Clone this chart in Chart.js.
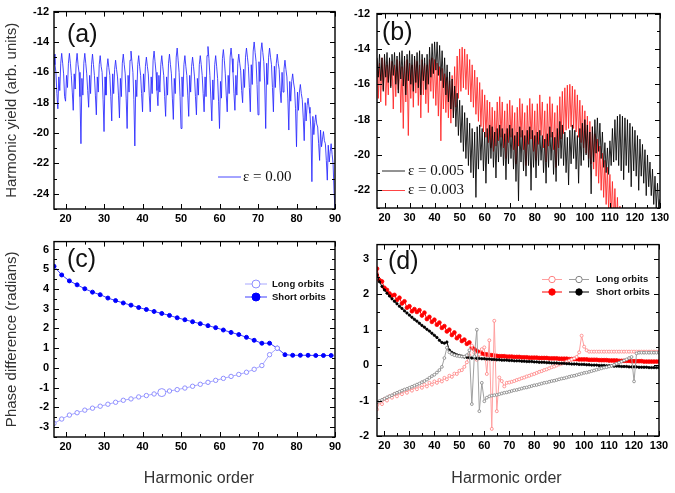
<!DOCTYPE html>
<html>
<head>
<meta charset="utf-8">
<script src="https://cdn.jsdelivr.net/npm/chart.js@4/dist/chart.umd.min.js"></script>
<style>
body { margin: 0; background: #fff; width: 675px; height: 493px; position: relative; overflow: hidden; }
canvas { position: absolute; }
</style>
</head>
<body>
<canvas id="pa" width="345" height="235" style="left:0;top:0"></canvas>
<canvas id="pb" width="338" height="235" style="left:337px;top:0"></canvas>
<canvas id="pc" width="345" height="263" style="left:0;top:230px"></canvas>
<canvas id="pd" width="338" height="263" style="left:337px;top:230px"></canvas>
<script>
// (a) harmonic yield, eps = 0.00, sampled every 0.25 order from H17
var yieldAStart = 17, yieldAStep = 0.25;
var yieldA = [
    -14.8, -15.5, -16.0, -17.4, -18.4, -16.3, -17.2, -15.4,
    -14.75, -15.4, -16.1, -17.6, -17.9, -16.2, -17.0, -15.4,
    -14.75, -15.4, -16.2, -17.3, -18.5, -16.1, -17.1, -15.4,
    -14.75, -15.5, -16.0, -17.6, -20.7, -16.4, -17.5, -15.4,
    -14.75, -15.4, -16.1, -17.2, -18.3, -16.2, -17.4, -15.5,
    -14.8, -15.5, -16.2, -17.5, -18.8, -16.3, -17.3, -15.5,
    -14.9, -15.6, -16.0, -17.8, -19.9, -16.3, -17.5, -15.7,
    -15.1, -15.7, -16.2, -17.6, -19.2, -16.1, -17.4, -15.8,
    -15.2, -15.8, -16.3, -17.5, -19.0, -16.4, -17.6, -15.4,
    -14.8, -15.5, -16.1, -17.7, -19.7, -16.2, -17.3, -15.2,
    -14.6, -15.3, -16.0, -17.8, -20.85, -16.5, -17.6, -15.5,
    -14.9, -15.6, -16.2, -17.4, -18.6, -16.1, -17.3, -15.6,
    -15.0, -15.6, -16.1, -17.5, -18.6, -16.3, -17.4, -15.2,
    -14.6, -15.3, -16.0, -17.2, -18.2, -16.2, -17.3, -15.5,
    -14.9, -15.6, -16.2, -17.6, -18.9, -16.3, -17.5, -15.4,
    -14.8, -15.5, -16.1, -17.7, -19.1, -16.4, -17.4, -15.0,
    -14.4, -15.2, -16.0, -17.6, -19.7, -16.3, -17.6, -15.5,
    -14.9, -15.6, -16.2, -17.5, -18.9, -16.2, -17.3, -15.6,
    -15.0, -15.6, -16.3, -17.6, -18.8, -16.4, -17.5, -15.5,
    -14.9, -15.5, -16.2, -17.4, -18.6, -16.3, -17.6, -14.9,
    -14.3, -15.1, -16.2, -17.7, -19.2, -16.5, -17.8, -15.5,
    -14.9, -15.6, -16.4, -17.9, -19.7, -16.6, -17.7, -15.1,
    -14.5, -15.2, -16.1, -17.5, -18.6, -16.2, -17.4, -15.0,
    -14.4, -15.1, -16.0, -17.4, -18.5, -16.2, -17.5, -15.4,
    -14.8, -15.4, -15.9, -17.2, -18.0, -15.8, -17.0, -15.0,
    -14.4, -15.0, -15.6, -17.0, -18.6, -15.5, -16.8, -14.6,
    -14.0, -14.7, -15.3, -16.8, -18.8, -15.3, -16.6, -14.6,
    -14.05, -14.7, -15.3, -16.9, -19.7, -15.4, -16.8, -15.0,
    -14.4, -15.0, -15.5, -17.0, -18.6, -15.6, -17.0, -15.4,
    -14.8, -15.4, -15.8, -17.2, -18.0, -16.0, -17.3, -15.8,
    -15.2, -15.8, -16.3, -17.7, -19.8, -16.6, -17.9, -16.6,
    -16.1, -16.7, -17.1, -18.4, -20.9, -17.3, -18.5, -17.3,
    -16.8, -17.4, -17.8, -19.0, -20.5, -18.0, -19.2, -18.2,
    -17.7, -18.3, -18.7, -19.8, -23.2, -18.9, -20.1, -19.3,
    -18.8, -19.4, -19.6, -20.7, -21.8, -19.8, -20.9, -20.4,
    -19.9, -20.5, -20.7, -21.8, -23.1, -20.8, -21.9, -21.2,
    -20.7, -21.4, -22.0, -23.8, -25.0
];

// (b) harmonic yield, sampled every 0.5 order from H17 (comb top, comb bottom, ...)
var yieldBStart = 17, yieldBStep = 0.5;
var yieldB005 = [
    -14.5, -15.6, -14.3, -15.8, -14.5, -16.4, -14.3, -15.6, -14.2, -15.9,
    -14.5, -16.2, -14.3, -15.5, -14.2, -16.0, -14.4, -16.5, -14.2, -15.7,
    -14.1, -16.1, -14.4, -16.6, -14.3, -15.8, -14.1, -16.0, -14.3, -16.4,
    -14.4, -15.9, -14.2, -16.2, -14.1, -16.6, -14.3, -15.8, -14.5, -16.3,
    -14.3, -16.0, -13.9, -15.6, -13.7, -15.4, -13.6, -15.2, -13.6, -15.5,
    -13.8, -15.8, -14.1, -16.2, -14.5, -16.6, -14.9, -17.0, -15.3, -17.4,
    -15.7, -17.9, -16.1, -18.4, -16.5, -18.9, -16.9, -19.3, -17.2, -19.8,
    -17.6, -20.2, -17.9, -20.6, -18.2, -21.0, -18.5, -21.3, -18.7, -22.4,
    -18.4, -20.8, -18.3, -20.3, -18.5, -20.9, -18.7, -21.6, -18.5, -20.5,
    -18.3, -20.2, -18.4, -20.7, -18.7, -21.3, -18.5, -20.4, -18.3, -20.1,
    -18.5, -20.6, -18.8, -21.4, -18.5, -20.5, -18.3, -20.2, -18.5, -20.8,
    -18.9, -21.5, -18.7, -22.6, -18.4, -20.4, -18.6, -20.9, -18.9, -21.2,
    -18.6, -20.6, -18.4, -22.0, -18.6, -20.7, -18.9, -21.3, -18.7, -20.6,
    -18.6, -20.3, -18.9, -21.0, -19.1, -21.6, -18.8, -20.7, -18.4, -20.3,
    -18.7, -21.1, -19.0, -21.5, -18.5, -20.6, -18.1, -20.2, -18.3, -20.6,
    -18.7, -21.0, -19.0, -21.7, -18.6, -20.5, -18.3, -20.2, -18.6, -20.8,
    -18.9, -21.6, -18.5, -20.6, -18.2, -20.3, -18.0, -20.0, -18.3, -20.7,
    -18.7, -22.2, -18.4, -20.4, -18.0, -19.9, -17.9, -19.8, -18.2, -20.2,
    -18.7, -20.7, -19.3, -21.0, -19.6, -21.1, -19.2, -20.6, -18.5, -20.4,
    -18.0, -20.3, -17.8, -20.6, -17.7, -20.9, -17.8, -21.4, -17.9, -20.6,
    -18.0, -21.0, -18.2, -21.8, -18.4, -20.9, -18.6, -21.2, -18.9, -22.0,
    -19.1, -21.2, -19.4, -21.6, -19.7, -22.3, -20.0, -21.8, -20.4, -22.3,
    -20.8, -22.8, -21.2, -23.0, -21.6, -23.0, -22.5
];
var yieldB003 = [
    -14.6, -16.8, -14.8, -17.0, -14.5, -16.3, -14.6, -17.2, -14.9, -16.6,
    -14.6, -16.1, -14.7, -17.4, -14.9, -16.7, -14.6, -16.3, -14.7, -17.6,
    -15.0, -18.5, -14.7, -17.0, -14.6, -18.9, -14.8, -16.8, -14.9, -17.3,
    -14.6, -16.5, -14.7, -17.2, -14.9, -17.9, -14.6, -16.6, -14.8, -17.1,
    -14.9, -17.6, -14.6, -16.4, -14.5, -16.8, -14.6, -17.2, -14.8, -17.8,
    -15.0, -19.2, -15.1, -17.4, -15.4, -17.6, -15.6, -17.9, -15.8, -18.2,
    -15.5, -17.9, -15.0, -17.3, -14.4, -16.8, -14.0, -16.4, -13.9, -16.2,
    -14.0, -16.3, -14.3, -16.6, -14.6, -17.0, -14.9, -17.3, -15.2, -17.7,
    -15.6, -18.1, -15.9, -18.4, -16.3, -18.7, -16.6, -19.0, -16.9, -19.3,
    -17.0, -19.6, -17.3, -19.8, -17.5, -19.5, -17.0, -19.2, -16.7, -19.0,
    -17.0, -19.6, -17.5, -20.2, -17.1, -19.3, -16.9, -19.0, -17.2, -19.7,
    -17.6, -20.5, -17.3, -19.5, -16.8, -19.0, -17.1, -19.7, -17.6, -20.6,
    -17.2, -19.4, -16.8, -19.1, -17.1, -19.8, -17.5, -20.3, -17.1, -19.4,
    -16.6, -18.9, -17.0, -19.6, -17.5, -20.4, -17.1, -19.5, -16.7, -19.0,
    -17.1, -19.7, -17.6, -20.7, -17.2, -19.6, -16.7, -19.1, -16.4, -18.8,
    -16.2, -18.6, -16.05, -18.5, -16.0, -18.4, -16.1, -18.5, -16.3, -18.7,
    -16.6, -19.0, -16.9, -19.3, -17.2, -19.6, -17.5, -19.9, -17.8, -20.2,
    -18.1, -20.5, -18.4, -20.8, -18.8, -21.2, -19.1, -21.6, -19.5, -22.0,
    -19.9, -22.4, -20.3, -22.8, -20.7, -23.2, -21.1, -23.5, -21.5, -23.8,
    -21.9, -24.2, -22.4, -24.6, -22.9, -25.0, -23.5
];

// (c) phase difference, eps = 0.00, odd harmonics
var orderC = [17, 19, 21, 23, 25, 27, 29, 31, 33, 35, 37, 39, 41, 43, 45, 47, 49, 51, 53,
    55, 57, 59, 61, 63, 65, 67, 69, 71, 73, 75, 77, 79, 81, 83, 85, 87, 89];
var shortC = [5.15, 4.71, 4.41, 4.21, 4.01, 3.84, 3.71, 3.54, 3.41, 3.29, 3.18, 3.06, 2.96,
    2.86, 2.76, 2.66, 2.54, 2.44, 2.34, 2.24, 2.14, 2.04, 1.92, 1.80, 1.69, 1.55, 1.40, 1.25,
    1.25, 1.00, 0.67, 0.64, 0.64, 0.64, 0.63, 0.63, 0.63];
var longC = [-2.81, -2.59, -2.39, -2.27, -2.14, -2.04, -1.94, -1.84, -1.74, -1.64, -1.57,
    -1.47, -1.40, -1.32, -1.25, -1.17, -1.10, -1.02, -0.93, -0.83, -0.73, -0.63, -0.53, -0.43,
    -0.33, -0.22, -0.07, 0.12, 0.67, 1.00];

// (d) phase difference, every harmonic from H17 to H130
var orderDStart = 17;
var shortD005 = [
    2.55, 2.35, 2.22, 2.12, 2.03, 1.95, 1.87, 1.80, 1.73, 1.66,
    1.60, 1.53, 1.47, 1.41, 1.35, 1.29, 1.24, 1.18, 1.12, 1.07,
    1.01, 0.96, 0.90, 0.84, 0.78, 0.70, 0.64, 0.62, 0.65, 0.42,
    0.36, 0.32, 0.29, 0.27, 0.25, 0.23, 0.22, 0.21, 0.20, 0.20,
    0.19, 0.19, 0.18, 0.18, 0.17, 0.17, 0.16, 0.16, 0.15, 0.15,
    0.14, 0.14, 0.14, 0.13, 0.13, 0.12, 0.12, 0.12, 0.11, 0.11,
    0.10, 0.10, 0.10, 0.09, 0.09, 0.08, 0.08, 0.08, 0.07, 0.07,
    0.06, 0.06, 0.06, 0.05, 0.05, 0.05, 0.04, 0.04, 0.03, 0.03,
    0.03, 0.02, 0.02, 0.02, 0.01, 0.01, 0.00, 0.00, 0.00, -0.01,
    -0.01, -0.01, -0.02, -0.02, -0.02, -0.03, -0.03, -0.03, -0.04, -0.04,
    -0.04, -0.05, -0.05, -0.05, -0.05, -0.06, -0.06, -0.06, -0.06, -0.07,
    -0.07, -0.07, -0.07, -0.07
];
var longD005 = [
    -1.05, -1.01, -0.98, -0.95, -0.91, -0.88, -0.85, -0.81, -0.78, -0.75,
    -0.72, -0.69, -0.67, -0.64, -0.61, -0.58, -0.55, -0.52, -0.48, -0.45,
    -0.41, -0.36, -0.31, -0.27, -0.21, -0.14, -0.05, 0.20, 0.49, 0.36,
    0.31, 0.28, 0.26, 0.25, 0.24, 0.24, 0.28, 0.42, -1.10, 0.25,
    1.00, -1.30, -0.50, -1.02, -0.92, -0.88, -0.86, -0.85, -0.84, -0.82,
    -0.80, -0.78, -0.77, -0.75, -0.73, -0.71, -0.70, -0.68, -0.66, -0.64,
    -0.63, -0.61, -0.59, -0.57, -0.56, -0.54, -0.52, -0.50, -0.49, -0.47,
    -0.45, -0.44, -0.42, -0.40, -0.38, -0.37, -0.35, -0.33, -0.31, -0.30,
    -0.28, -0.26, -0.24, -0.22, -0.21, -0.19, -0.17, -0.15, -0.13, -0.11,
    -0.09, -0.07, -0.06, -0.04, -0.02, 0.01, 0.04, 0.07, 0.10, 0.13,
    0.16, 0.20, 0.23, -0.46, 0.33, 0.35, 0.35, 0.35, 0.35, 0.35,
    0.35, 0.35, 0.35, 0.35
];
var shortD003 = [
    2.72, 2.40, 2.36, 2.18, 2.12, 2.02, 1.96, 1.98, 1.84, 1.90,
    1.74, 1.80, 1.62, 1.66, 1.52, 1.58, 1.50, 1.55, 1.40, 1.48,
    1.30, 1.36, 1.22, 1.28, 1.14, 1.20, 1.05, 1.10, 0.95, 1.00,
    0.85, 0.92, 0.76, 0.82, 0.68, 0.72, 0.60, 0.64, 0.50, 0.45,
    0.40, 0.36, 0.33, 0.31, 0.30, 0.29, 0.28, 0.27, 0.26, 0.25,
    0.25, 0.25, 0.24, 0.24, 0.24, 0.23, 0.23, 0.23, 0.22, 0.22,
    0.22, 0.21, 0.21, 0.21, 0.21, 0.20, 0.20, 0.20, 0.20, 0.19,
    0.19, 0.19, 0.19, 0.18, 0.18, 0.18, 0.18, 0.17, 0.17, 0.17,
    0.17, 0.16, 0.16, 0.16, 0.16, 0.15, 0.15, 0.15, 0.15, 0.14,
    0.14, 0.14, 0.14, 0.13, 0.13, 0.13, 0.13, 0.12, 0.12, 0.12,
    0.12, 0.12, 0.11, 0.11, 0.11, 0.11, 0.11, 0.10, 0.10, 0.10,
    0.10, 0.10, 0.10, 0.10
];
var longD003 = [
    -1.25, -1.05, -1.10, -0.95, -1.00, -0.88, -0.92, -0.82, -0.88, -0.78,
    -0.82, -0.72, -0.78, -0.68, -0.72, -0.62, -0.68, -0.58, -0.64, -0.55,
    -0.60, -0.50, -0.55, -0.46, -0.50, -0.42, -0.46, -0.36, -0.40, -0.30,
    -0.33, -0.24, -0.25, -0.16, -0.14, -0.05, 0.08, 0.28, 0.55, 0.35,
    0.15, 0.30, 0.45, 0.50, -0.25, 0.70, -1.80, 1.25, -1.30, -0.35,
    -0.45, -0.60, -0.50, -0.49, -0.47, -0.45, -0.42, -0.40, -0.37, -0.35,
    -0.32, -0.30, -0.27, -0.25, -0.22, -0.19, -0.17, -0.14, -0.12, -0.09,
    -0.06, -0.04, -0.01, 0.02, 0.04, 0.07, 0.10, 0.13, 0.16, 0.19,
    0.23, 0.36, 0.83, 0.52, 0.42, 0.38, 0.38, 0.38, 0.38, 0.38,
    0.38, 0.38, 0.38, 0.38, 0.38, 0.38, 0.38, 0.38, 0.38, 0.38,
    0.38, 0.38, 0.38, 0.38, 0.38, 0.38, 0.38, 0.38, 0.38, 0.38,
    0.38, 0.38, 0.38, 0.38
];

var xTicksA = [20, 30, 40, 50, 60, 70, 80, 90];
var xTicksB = [20, 30, 40, 50, 60, 70, 80, 90, 100, 110, 120, 130];
var yTicksA = [-24, -22, -20, -18, -16, -14, -12];
var yTicksB = [-22, -20, -18, -16, -14, -12];
var yTicksC = [-3, -2, -1, 0, 1, 2, 3, 4, 5, 6];
var yTicksD = [-2, -1, 0, 1, 2, 3];

function stepped(start, step, ys) {
    return ys.map(function (y, i) { return { x: start + i * step, y: y }; });
}
function paired(xs, ys) {
    return ys.map(function (y, i) { return { x: xs[i], y: y }; });
}

var tickFont = { family: 'Liberation Sans', size: 11, weight: 'bold' };

function axes(o) {
    return {
        x: {
            type: 'linear', min: o.xMin, max: o.xMax,
            afterBuildTicks: function (s) { s.ticks = o.xTicks.map(function (v) { return { value: v }; }); },
            afterFit: function (s) { s.height = o.xH; },
            grid: { display: false, drawTicks: false },
            border: { display: false },
            ticks: { font: tickFont, color: '#000', padding: 3, maxRotation: 0, autoSkip: false }
        },
        y: {
            type: 'linear', min: o.yMin, max: o.yMax,
            afterBuildTicks: function (s) { s.ticks = o.yTicks.map(function (v) { return { value: v }; }); },
            afterFit: function (s) { s.width = o.yW; },
            grid: { display: false, drawTicks: false },
            border: { display: false },
            ticks: { font: tickFont, color: '#000', padding: o.yPad, autoSkip: false },
            title: o.yTitle ? {
                display: true, text: o.yTitle, color: '#333',
                font: { family: 'Liberation Sans', size: 15 }, padding: { top: 3, bottom: 0 }
            } : { display: false }
        }
    };
}

// frame, inward ticks, panel letter, legend
function decor(d) {
    return {
        id: 'decor',
        afterDatasetsDraw: function (chart) {
            var ctx = chart.ctx, a = chart.chartArea, x = chart.scales.x, y = chart.scales.y;
            function marks(s) {
                var v = s.ticks.map(function (t) { return t.value; }).sort(function (p, q) { return p - q; });
                var step = v[1] - v[0];
                var out = v.map(function (t) { return [t, 5]; });
                [v[0] - step / 2].concat(v.map(function (t) { return t + step / 2; })).forEach(function (t) {
                    if (t >= s.min - 1e-9 && t <= s.max + 1e-9) out.push([t, 3]);
                });
                return out;
            }
            ctx.save();
            ctx.strokeStyle = '#000';
            ctx.lineWidth = 1;
            ctx.beginPath();
            marks(x).forEach(function (m) {
                var p = Math.round(x.getPixelForValue(m[0])) + 0.5;
                ctx.moveTo(p, a.bottom); ctx.lineTo(p, a.bottom - m[1]);
                ctx.moveTo(p, a.top); ctx.lineTo(p, a.top + m[1]);
            });
            marks(y).forEach(function (m) {
                var p = Math.round(y.getPixelForValue(m[0])) + 0.5;
                ctx.moveTo(a.left, p); ctx.lineTo(a.left + m[1], p);
                ctx.moveTo(a.right, p); ctx.lineTo(a.right - m[1], p);
            });
            ctx.stroke();
            ctx.lineWidth = 1.4;
            ctx.strokeRect(a.left, a.top, a.right - a.left, a.bottom - a.top);

            ctx.fillStyle = '#111';
            ctx.textBaseline = 'middle';
            ctx.font = '25px "Liberation Sans"';
            ctx.fillText(d.label, d.labelX, d.labelY);
            if (d.xTitle) {
                ctx.textAlign = 'center';
                ctx.font = '16px "Liberation Sans"';
                ctx.fillStyle = '#333';
                ctx.fillText(d.xTitle, d.xTitleX, d.xTitleY);
                ctx.textAlign = 'left';
            }
            d.legend.forEach(function (row) {
                var lx = row.x;
                row.sets.forEach(function (i) {
                    var ds = chart.data.datasets[i];
                    ctx.strokeStyle = ds.borderColor;
                    ctx.lineWidth = 1;
                    ctx.beginPath(); ctx.moveTo(lx, row.y); ctx.lineTo(lx + d.len, row.y); ctx.stroke();
                    if (d.marker) {
                        ctx.beginPath();
                        ctx.arc(lx + d.len / 2, row.y, d.marker, 0, 2 * Math.PI);
                        ctx.fillStyle = ds.pointBackgroundColor; ctx.fill();
                        ctx.strokeStyle = ds.pointBorderColor; ctx.stroke();
                    }
                    lx += d.len + d.gap;
                });
                ctx.fillStyle = '#111';
                ctx.font = d.font;
                ctx.fillText(row.text, lx - d.gap + d.textGap, row.y);
            });
            ctx.restore();
        }
    };
}

var common = {
    responsive: false, animation: false, events: [],
    plugins: { legend: { display: false }, tooltip: { enabled: false } }
};
function opts(extra) { return Object.assign({}, common, extra); }

new Chart(document.getElementById('pa'), {
    type: 'line',
    data: { datasets: [{
        data: stepped(yieldAStart, yieldAStep, yieldA),
        borderColor: 'rgba(40,40,255,0.85)', borderWidth: 1, pointRadius: 0
    }] },
    options: opts({
        layout: { padding: { top: 9, right: 10, left: 0, bottom: 0 } },
        scales: axes({ xMin: 17, xMax: 90, xTicks: xTicksA, xH: 26, yMin: -25, yMax: -12, yTicks: yTicksA,
            yW: 54, yPad: 5, yTitle: 'Harmonic yield (arb. units)' })
    }),
    plugins: [decor({ label: '(a)', labelX: 67, labelY: 35, len: 23, gap: 0, textGap: 2,
        font: '15px "Liberation Serif"', legend: [{ x: 218, y: 177, sets: [0], text: 'ε = 0.00' }] })]
});

new Chart(document.getElementById('pb'), {
    type: 'line',
    data: { datasets: [
        { data: stepped(yieldBStart, yieldBStep, yieldB005), borderColor: 'rgba(0,0,0,0.85)', borderWidth: 1, pointRadius: 0 },
        { data: stepped(yieldBStart, yieldBStep, yieldB003), borderColor: 'rgba(255,35,35,0.85)', borderWidth: 1, pointRadius: 0 }
    ] },
    options: opts({
        layout: { padding: { top: 9, right: 15, left: 0, bottom: 0 } },
        scales: axes({ xMin: 17, xMax: 130, xTicks: xTicksB, xH: 27, yMin: -23, yMax: -12, yTicks: yTicksB,
            yW: 40, yPad: 7 })
    }),
    plugins: [decor({ label: '(b)', labelX: 45, labelY: 33, len: 23, gap: 0, textGap: 3,
        font: '15px "Liberation Serif"', legend: [
            { x: 45, y: 171, sets: [0], text: 'ε = 0.005' },
            { x: 45, y: 190.5, sets: [1], text: 'ε = 0.003' }
        ] })]
});

new Chart(document.getElementById('pc'), {
    type: 'line',
    data: { datasets: [
        { data: paired(orderC, longC), borderColor: '#a8a8ff', borderWidth: 1,
          pointRadius: longC.map(function (v, i) { return orderC[i] === 45 ? 4 : 2.2; }),
          pointBackgroundColor: '#fff', pointBorderColor: '#8f8fff', pointBorderWidth: 1 },
        { data: paired(orderC, shortC), borderColor: '#4040ff', borderWidth: 1, pointRadius: 2,
          pointBackgroundColor: '#0000ff', pointBorderColor: '#0000ff', pointBorderWidth: 1 }
    ] },
    options: opts({
        layout: { padding: { top: 10, right: 10, left: 0, bottom: 0 } },
        scales: axes({ xMin: 17, xMax: 90, xTicks: xTicksA, xH: 56, yMin: -3.5, yMax: 6.4, yTicks: yTicksC,
            yW: 54, yPad: 5, yTitle: 'Phase difference (radians)' })
    }),
    plugins: [decor({ label: '(c)', labelX: 67, labelY: 30, xTitle: 'Harmonic order', xTitleX: 199, xTitleY: 249,
        len: 22, gap: 0, textGap: 5, marker: 4, font: 'bold 9.5px "Liberation Sans"', legend: [
            { x: 245, y: 54, sets: [0], text: 'Long orbits' },
            { x: 245, y: 67, sets: [1], text: 'Short orbits' }
        ] })]
});

var orderD = shortD005.map(function (v, i) { return orderDStart + i; });
new Chart(document.getElementById('pd'), {
    type: 'line',
    data: { datasets: [
        { data: paired(orderD, longD005), borderColor: '#a0a0a0', borderWidth: 1, pointRadius: 1.4,
          pointBackgroundColor: '#fff', pointBorderColor: '#808080', pointBorderWidth: 0.8 },
        { data: paired(orderD, shortD005), borderColor: '#000', borderWidth: 1, pointRadius: 1.2,
          pointBackgroundColor: '#000', pointBorderColor: '#000', pointBorderWidth: 0.8 },
        { data: paired(orderD, longD003), borderColor: '#ffa0a0', borderWidth: 1, pointRadius: 1.5,
          pointBackgroundColor: '#fff', pointBorderColor: '#ff8080', pointBorderWidth: 0.8 },
        { data: paired(orderD, shortD003), borderColor: '#ff0000', borderWidth: 1, pointRadius: 1.9,
          pointBackgroundColor: '#ff0000', pointBorderColor: '#ff0000', pointBorderWidth: 0.8 }
    ] },
    options: opts({
        layout: { padding: { top: 10, right: 16, left: 0, bottom: 0 } },
        scales: axes({ xMin: 17, xMax: 130, xTicks: xTicksB, xH: 57, yMin: -2, yMax: 3.4, yTicks: yTicksD,
            yW: 40, yPad: 8 })
    }),
    plugins: [decor({ label: '(d)', labelX: 51, labelY: 32, xTitle: 'Harmonic order', xTitleX: 169.5, xTitleY: 249,
        len: 20, gap: 7, textGap: 7, marker: 3.2, font: 'bold 9.5px "Liberation Sans"', legend: [
            { x: 205, y: 49.5, sets: [2, 0], text: 'Long orbits' },
            { x: 205, y: 62, sets: [3, 1], text: 'Short orbits' }
        ] })]
});
</script>
</body>
</html>
